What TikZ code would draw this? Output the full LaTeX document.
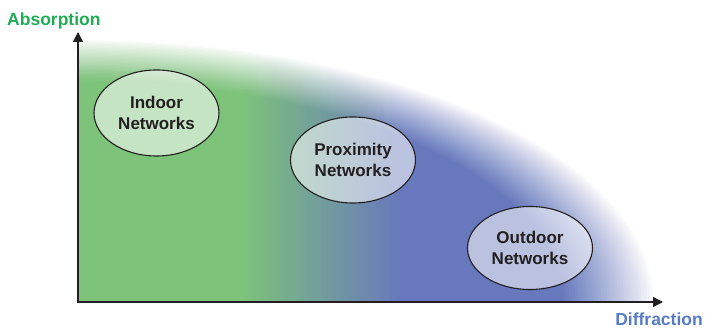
\documentclass[tikz,border=0pt]{standalone}
\usepackage{fontspec}
\setmainfont{Liberation Sans}
\usetikzlibrary{arrows.meta,shapes.geometric}

\definecolor{absgreen}{RGB}{30,173,85}
\definecolor{difblue}{RGB}{88,124,196}
\definecolor{fillgreen}{RGB}{125,196,122}
\definecolor{fillblue}{RGB}{104,120,188}
\definecolor{axisgray}{RGB}{35,31,32}

\pgfdeclarehorizontalshading{greenblue}{100bp}{color(0bp)=(fillgreen); color(57bp)=(fillgreen); color(64bp)=(fillblue); color(100bp)=(fillblue)}

\begin{document}
\begin{tikzpicture}[x=1pt,y=1pt,
  axis/.style={draw=axisgray,line width=1.3pt},
  net/.style={ellipse,draw=axisgray,line width=1.1pt,fill=white,fill opacity=0.55,
              text opacity=1,text=axisgray,minimum width=125pt,minimum height=86pt,
              inner sep=0pt,align=center,font=\fontsize{17}{21}\selectfont\bfseries},
  lbl/.style={inner sep=0pt,font=\fontsize{17.5}{21}\selectfont\bfseries}]

\useasboundingbox (0,0) rectangle (705,329);

% coloured region, faded to white at its rim
\begin{scope}
\clip (78,27) rectangle (705,329);
\shade[shading=greenblue] (78,27) ellipse [x radius=575,y radius=262];
\foreach \k in {1,...,32}{
  \pgfmathsetmacro\s{0.84+0.005*\k}
  \pgfmathsetmacro\op{1/(33-\k)}
  \fill[white,fill opacity=\op,even odd rule]
    (78,27) ellipse [x radius=575*\s,y radius=262*\s] (0,0) rectangle (705,329);
}
\end{scope}

\coordinate (origin) at (78,27);
\coordinate (ytop) at (78,297);
\coordinate (xend) at (663,27);

\draw[axis,{Triangle[length=10pt,width=10pt]}-{Triangle[length=10pt,width=10pt]}]
  (ytop) -- (origin) -- (xend);

\node[net] (indoor) at (156.5,216) {Indoor\\Networks};
\node[net] (proximity) at (353,169) {Proximity\\Networks};
\node[net,minimum height=83pt] (outdoor) at (530,81) {Outdoor\\Networks};

\node[lbl,text=absgreen,anchor=base west] (absorption) at (7,303) {Absorption};
\node[lbl,text=difblue,anchor=base east] (diffraction) at (703,3) {Diffraction};

\end{tikzpicture}
\end{document}
